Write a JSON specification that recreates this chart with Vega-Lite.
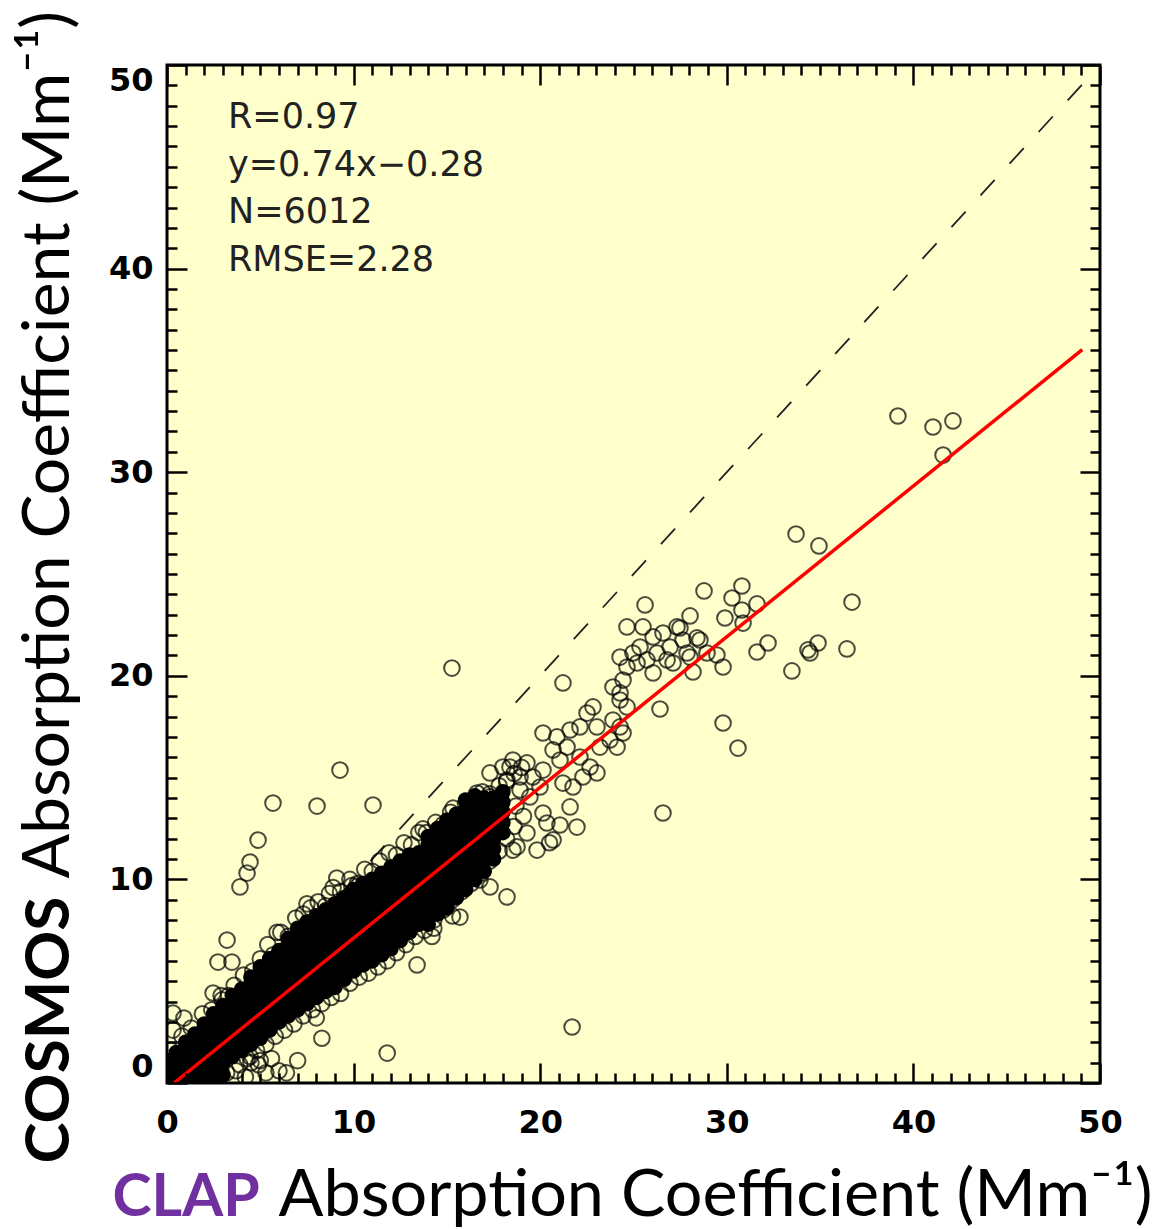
{
"$schema": "https://vega.github.io/schema/vega-lite/v6.json",
"width": 933, "height": 1018,
"autosize": "none",
"padding": {"left": 167, "top": 65, "right": 57, "bottom": 146},
"background": "white",
"config": {"view": {"fill": "#FFFFCC", "stroke": "black", "strokeWidth": 3}, "axis": {"domain": false, "grid": false}},
"datasets": {
"oneone": [{"clap": 0, "cosmos": 0}, {"clap": 49.4, "cosmos": 49.4}],
"fit": [{"clap": 0.38, "cosmos": 0}, {"clap": 49.05, "cosmos": 36.02}],
"core": [
{"clap":0,"cosmos":0.2},{"clap":0,"cosmos":0.7},{"clap":0,"cosmos":1.1},
{"clap":0.5,"cosmos":0.1},{"clap":0.5,"cosmos":0.6},{"clap":0.5,"cosmos":1.1},{"clap":0.5,"cosmos":1.5},
{"clap":1,"cosmos":0.1},{"clap":1,"cosmos":0.6},{"clap":1,"cosmos":1.1},{"clap":1,"cosmos":1.6},{"clap":1,"cosmos":2.0},
{"clap":1.5,"cosmos":0.1},{"clap":1.5,"cosmos":0.6},{"clap":1.5,"cosmos":1.1},{"clap":1.5,"cosmos":1.6},{"clap":1.5,"cosmos":2.1},{"clap":1.5,"cosmos":2.4},
{"clap":2,"cosmos":0.2},{"clap":2,"cosmos":0.7},{"clap":2,"cosmos":1.2},{"clap":2,"cosmos":1.7},{"clap":2,"cosmos":2.2},{"clap":2,"cosmos":2.7},{"clap":2,"cosmos":2.9},
{"clap":2.5,"cosmos":0.2},{"clap":2.5,"cosmos":0.7},{"clap":2.5,"cosmos":1.2},{"clap":2.5,"cosmos":1.7},{"clap":2.5,"cosmos":2.2},{"clap":2.5,"cosmos":2.7},{"clap":2.5,"cosmos":3.2},{"clap":2.5,"cosmos":3.4},
{"clap":3,"cosmos":0.4},{"clap":3,"cosmos":1.0},{"clap":3,"cosmos":1.5},{"clap":3,"cosmos":2.0},{"clap":3,"cosmos":2.5},{"clap":3,"cosmos":3.0},{"clap":3,"cosmos":3.5},{"clap":3,"cosmos":3.8},
{"clap":3.5,"cosmos":1.3},{"clap":3.5,"cosmos":1.8},{"clap":3.5,"cosmos":2.3},{"clap":3.5,"cosmos":2.8},{"clap":3.5,"cosmos":3.3},{"clap":3.5,"cosmos":3.8},{"clap":3.5,"cosmos":4.3},
{"clap":4,"cosmos":1.6},{"clap":4,"cosmos":2.1},{"clap":4,"cosmos":2.6},{"clap":4,"cosmos":3.1},{"clap":4,"cosmos":3.6},{"clap":4,"cosmos":4.1},{"clap":4,"cosmos":4.6},
{"clap":4.5,"cosmos":1.9},{"clap":4.5,"cosmos":2.4},{"clap":4.5,"cosmos":2.9},{"clap":4.5,"cosmos":3.4},{"clap":4.5,"cosmos":3.9},{"clap":4.5,"cosmos":4.4},{"clap":4.5,"cosmos":4.9},{"clap":4.5,"cosmos":5.2},
{"clap":5,"cosmos":2.2},{"clap":5,"cosmos":2.7},{"clap":5,"cosmos":3.2},{"clap":5,"cosmos":3.7},{"clap":5,"cosmos":4.2},{"clap":5,"cosmos":4.7},{"clap":5,"cosmos":5.2},{"clap":5,"cosmos":5.7},
{"clap":5.5,"cosmos":2.6},{"clap":5.5,"cosmos":3.1},{"clap":5.5,"cosmos":3.6},{"clap":5.5,"cosmos":4.1},{"clap":5.5,"cosmos":4.6},{"clap":5.5,"cosmos":5.1},{"clap":5.5,"cosmos":5.6},{"clap":5.5,"cosmos":6.1},
{"clap":6,"cosmos":3.0},{"clap":6,"cosmos":3.5},{"clap":6,"cosmos":4.0},{"clap":6,"cosmos":4.5},{"clap":6,"cosmos":5.0},{"clap":6,"cosmos":5.5},{"clap":6,"cosmos":6.0},{"clap":6,"cosmos":6.5},
{"clap":6.5,"cosmos":3.3},{"clap":6.5,"cosmos":3.8},{"clap":6.5,"cosmos":4.3},{"clap":6.5,"cosmos":4.8},{"clap":6.5,"cosmos":5.3},{"clap":6.5,"cosmos":5.8},{"clap":6.5,"cosmos":6.3},{"clap":6.5,"cosmos":6.8},{"clap":6.5,"cosmos":7.1},
{"clap":7,"cosmos":3.6},{"clap":7,"cosmos":4.1},{"clap":7,"cosmos":4.6},{"clap":7,"cosmos":5.1},{"clap":7,"cosmos":5.6},{"clap":7,"cosmos":6.1},{"clap":7,"cosmos":6.6},{"clap":7,"cosmos":7.1},{"clap":7,"cosmos":7.6},
{"clap":7.5,"cosmos":3.9},{"clap":7.5,"cosmos":4.4},{"clap":7.5,"cosmos":4.9},{"clap":7.5,"cosmos":5.4},{"clap":7.5,"cosmos":5.9},{"clap":7.5,"cosmos":6.4},{"clap":7.5,"cosmos":6.9},{"clap":7.5,"cosmos":7.4},{"clap":7.5,"cosmos":7.9},
{"clap":8,"cosmos":4.2},{"clap":8,"cosmos":4.7},{"clap":8,"cosmos":5.2},{"clap":8,"cosmos":5.7},{"clap":8,"cosmos":6.2},{"clap":8,"cosmos":6.7},{"clap":8,"cosmos":7.2},{"clap":8,"cosmos":7.7},{"clap":8,"cosmos":8.2},
{"clap":8.5,"cosmos":4.5},{"clap":8.5,"cosmos":5.0},{"clap":8.5,"cosmos":5.5},{"clap":8.5,"cosmos":6.0},{"clap":8.5,"cosmos":6.5},{"clap":8.5,"cosmos":7.0},{"clap":8.5,"cosmos":7.5},{"clap":8.5,"cosmos":8.0},{"clap":8.5,"cosmos":8.5},
{"clap":9,"cosmos":4.7},{"clap":9,"cosmos":5.2},{"clap":9,"cosmos":5.7},{"clap":9,"cosmos":6.2},{"clap":9,"cosmos":6.7},{"clap":9,"cosmos":7.2},{"clap":9,"cosmos":7.7},{"clap":9,"cosmos":8.2},{"clap":9,"cosmos":8.8},
{"clap":9.5,"cosmos":5.1},{"clap":9.5,"cosmos":5.6},{"clap":9.5,"cosmos":6.1},{"clap":9.5,"cosmos":6.6},{"clap":9.5,"cosmos":7.1},{"clap":9.5,"cosmos":7.6},{"clap":9.5,"cosmos":8.1},{"clap":9.5,"cosmos":8.6},{"clap":9.5,"cosmos":9.1},
{"clap":10,"cosmos":5.5},{"clap":10,"cosmos":6.0},{"clap":10,"cosmos":6.5},{"clap":10,"cosmos":7.0},{"clap":10,"cosmos":7.5},{"clap":10,"cosmos":8.0},{"clap":10,"cosmos":8.5},{"clap":10,"cosmos":9.0},{"clap":10,"cosmos":9.5},
{"clap":10.5,"cosmos":5.8},{"clap":10.5,"cosmos":6.3},{"clap":10.5,"cosmos":6.8},{"clap":10.5,"cosmos":7.3},{"clap":10.5,"cosmos":7.8},{"clap":10.5,"cosmos":8.3},{"clap":10.5,"cosmos":8.8},{"clap":10.5,"cosmos":9.3},{"clap":10.5,"cosmos":9.8},
{"clap":11,"cosmos":6.0},{"clap":11,"cosmos":6.5},{"clap":11,"cosmos":7.0},{"clap":11,"cosmos":7.5},{"clap":11,"cosmos":8.0},{"clap":11,"cosmos":8.5},{"clap":11,"cosmos":9.0},{"clap":11,"cosmos":9.5},{"clap":11,"cosmos":10.0},
{"clap":11.5,"cosmos":6.3},{"clap":11.5,"cosmos":6.8},{"clap":11.5,"cosmos":7.3},{"clap":11.5,"cosmos":7.8},{"clap":11.5,"cosmos":8.3},{"clap":11.5,"cosmos":8.8},{"clap":11.5,"cosmos":9.3},{"clap":11.5,"cosmos":9.8},{"clap":11.5,"cosmos":10.3},
{"clap":12,"cosmos":6.6},{"clap":12,"cosmos":7.1},{"clap":12,"cosmos":7.6},{"clap":12,"cosmos":8.1},{"clap":12,"cosmos":8.6},{"clap":12,"cosmos":9.1},{"clap":12,"cosmos":9.6},{"clap":12,"cosmos":10.1},{"clap":12,"cosmos":10.6},
{"clap":12.5,"cosmos":7.0},{"clap":12.5,"cosmos":7.5},{"clap":12.5,"cosmos":8.0},{"clap":12.5,"cosmos":8.5},{"clap":12.5,"cosmos":9.0},{"clap":12.5,"cosmos":9.5},{"clap":12.5,"cosmos":10.0},{"clap":12.5,"cosmos":10.5},{"clap":12.5,"cosmos":10.9},
{"clap":13,"cosmos":7.4},{"clap":13,"cosmos":7.9},{"clap":13,"cosmos":8.4},{"clap":13,"cosmos":8.9},{"clap":13,"cosmos":9.4},{"clap":13,"cosmos":9.9},{"clap":13,"cosmos":10.4},{"clap":13,"cosmos":10.9},{"clap":13,"cosmos":11.2},
{"clap":13.5,"cosmos":7.8},{"clap":13.5,"cosmos":8.3},{"clap":13.5,"cosmos":8.8},{"clap":13.5,"cosmos":9.3},{"clap":13.5,"cosmos":9.8},{"clap":13.5,"cosmos":10.3},{"clap":13.5,"cosmos":10.8},{"clap":13.5,"cosmos":11.3},
{"clap":14,"cosmos":7.8},{"clap":14,"cosmos":8.2},{"clap":14,"cosmos":8.7},{"clap":14,"cosmos":9.2},{"clap":14,"cosmos":9.7},{"clap":14,"cosmos":10.2},{"clap":14,"cosmos":10.7},{"clap":14,"cosmos":11.2},{"clap":14,"cosmos":11.7},{"clap":14,"cosmos":12.1},
{"clap":14.5,"cosmos":8.3},{"clap":14.5,"cosmos":8.7},{"clap":14.5,"cosmos":9.2},{"clap":14.5,"cosmos":9.7},{"clap":14.5,"cosmos":10.2},{"clap":14.5,"cosmos":10.7},{"clap":14.5,"cosmos":11.2},{"clap":14.5,"cosmos":11.7},{"clap":14.5,"cosmos":12.1},{"clap":14.5,"cosmos":12.5},
{"clap":15,"cosmos":8.6},{"clap":15,"cosmos":9.1},{"clap":15,"cosmos":9.6},{"clap":15,"cosmos":10.1},{"clap":15,"cosmos":10.6},{"clap":15,"cosmos":11.1},{"clap":15,"cosmos":11.6},{"clap":15,"cosmos":12.1},{"clap":15,"cosmos":12.4},{"clap":15,"cosmos":12.9},
{"clap":15.5,"cosmos":9.1},{"clap":15.5,"cosmos":9.6},{"clap":15.5,"cosmos":10.1},{"clap":15.5,"cosmos":10.6},{"clap":15.5,"cosmos":11.1},{"clap":15.5,"cosmos":11.6},{"clap":15.5,"cosmos":12.1},{"clap":15.5,"cosmos":12.6},{"clap":15.5,"cosmos":13.2},
{"clap":16,"cosmos":9.5},{"clap":16,"cosmos":10.0},{"clap":16,"cosmos":10.5},{"clap":16,"cosmos":11.0},{"clap":16,"cosmos":11.5},{"clap":16,"cosmos":12.0},{"clap":16,"cosmos":12.5},{"clap":16,"cosmos":12.9},{"clap":16,"cosmos":13.4},{"clap":16,"cosmos":13.9},
{"clap":16.5,"cosmos":10.0},{"clap":16.5,"cosmos":10.5},{"clap":16.5,"cosmos":11.0},{"clap":16.5,"cosmos":11.5},{"clap":16.5,"cosmos":12.0},{"clap":16.5,"cosmos":12.5},{"clap":16.5,"cosmos":13.1},{"clap":16.5,"cosmos":13.6},{"clap":16.5,"cosmos":14.1},
{"clap":17,"cosmos":10.4},{"clap":17,"cosmos":10.9},{"clap":17,"cosmos":11.4},{"clap":17,"cosmos":11.9},{"clap":17,"cosmos":12.4},{"clap":17,"cosmos":13.0},{"clap":17,"cosmos":13.5},{"clap":17,"cosmos":14.0},
{"clap":17.5,"cosmos":11.0},{"clap":17.5,"cosmos":11.5},{"clap":17.5,"cosmos":12.0},{"clap":17.5,"cosmos":12.5},{"clap":17.5,"cosmos":13.0},{"clap":17.5,"cosmos":13.5},{"clap":17.5,"cosmos":14.0},
{"clap":18,"cosmos":12.3},{"clap":18,"cosmos":12.8},{"clap":18,"cosmos":13.3},{"clap":18,"cosmos":13.8},{"clap":18,"cosmos":14.3}
],
"scatter": [
{"clap":0.2,"cosmos":1.6},{"clap":0.8,"cosmos":2.3},{"clap":1.3,"cosmos":2.7},{"clap":1.9,"cosmos":3.4},{"clap":2.4,"cosmos":3.6},{"clap":2.9,"cosmos":4.3},{"clap":3.3,"cosmos":4.3},{"clap":3.6,"cosmos":4.8},{"clap":4.1,"cosmos":5.3},{"clap":4.6,"cosmos":5.5},{"clap":5.0,"cosmos":6.1},{"clap":5.4,"cosmos":6.8},{"clap":5.7,"cosmos":6.3},{"clap":6.1,"cosmos":7.4},{"clap":6.5,"cosmos":7.2},{"clap":6.9,"cosmos":8.1},{"clap":7.3,"cosmos":8.3},{"clap":7.7,"cosmos":8.6},{"clap":8.1,"cosmos":8.9},{"clap":8.5,"cosmos":8.7},{"clap":8.9,"cosmos":9.6},{"clap":9.3,"cosmos":9.4},{"clap":9.8,"cosmos":10.0},{"clap":10.2,"cosmos":9.8},{"clap":10.6,"cosmos":10.5},{"clap":11.0,"cosmos":10.4},{"clap":11.4,"cosmos":10.9},{"clap":11.9,"cosmos":11.3},{"clap":12.3,"cosmos":11.2},{"clap":12.7,"cosmos":11.8},{"clap":13.1,"cosmos":11.7},{"clap":13.5,"cosmos":12.3},{"clap":13.9,"cosmos":12.3},{"clap":14.4,"cosmos":12.8},{"clap":14.8,"cosmos":12.7},{"clap":15.2,"cosmos":13.3},{"clap":15.6,"cosmos":13.1},{"clap":16.0,"cosmos":13.7},{"clap":16.5,"cosmos":13.9},{"clap":16.9,"cosmos":14.3},{"clap":17.3,"cosmos":14.2},{"clap":17.8,"cosmos":14.6},{"clap":18.2,"cosmos":14.8},{"clap":18.6,"cosmos":15.2},{"clap":19.0,"cosmos":15.5},
{"clap":4.3,"cosmos":1.2},{"clap":4.8,"cosmos":1.6},{"clap":5.3,"cosmos":1.9},{"clap":5.8,"cosmos":2.3},{"clap":6.3,"cosmos":2.6},{"clap":6.8,"cosmos":2.9},{"clap":7.3,"cosmos":3.3},{"clap":7.8,"cosmos":3.6},{"clap":8.3,"cosmos":3.9},{"clap":8.8,"cosmos":4.2},{"clap":9.3,"cosmos":4.4},{"clap":9.8,"cosmos":4.9},{"clap":10.3,"cosmos":5.2},{"clap":10.8,"cosmos":5.4},{"clap":11.3,"cosmos":5.7},{"clap":11.8,"cosmos":6.0},{"clap":12.3,"cosmos":6.4},{"clap":12.8,"cosmos":6.8},{"clap":13.3,"cosmos":7.2},{"clap":13.8,"cosmos":7.5},{"clap":14.3,"cosmos":8.0},{"clap":14.8,"cosmos":8.5},{"clap":15.3,"cosmos":9.0},{"clap":15.8,"cosmos":9.4},{"clap":16.3,"cosmos":9.8},{"clap":16.8,"cosmos":10.3},{"clap":17.3,"cosmos":10.9},{"clap":17.8,"cosmos":11.4},{"clap":18.2,"cosmos":12.0},
{"clap":3.7,"cosmos":0.6},{"clap":4.2,"cosmos":0.3},{"clap":4.5,"cosmos":1.0},{"clap":4.9,"cosmos":0.9},{"clap":5.3,"cosmos":0.5},{"clap":5.6,"cosmos":1.2},{"clap":6.0,"cosmos":0.6},{"clap":6.4,"cosmos":0.5},{"clap":7.0,"cosmos":1.1},{"clap":3.9,"cosmos":0.9},{"clap":3.2,"cosmos":0.5},{"clap":5.0,"cosmos":1.1},{"clap":4.45,"cosmos":1.3},
{"clap":15.27,"cosmos":20.38},{"clap":9.27,"cosmos":15.37},{"clap":5.68,"cosmos":13.75},{"clap":8.04,"cosmos":13.6},{"clap":11.04,"cosmos":13.65},{"clap":4.88,"cosmos":11.93},{"clap":4.45,"cosmos":10.85},{"clap":4.29,"cosmos":10.31},{"clap":3.91,"cosmos":9.63},{"clap":3.22,"cosmos":7.02},{"clap":2.73,"cosmos":5.94},{"clap":3.48,"cosmos":5.94},{"clap":0.91,"cosmos":3.19},{"clap":0.32,"cosmos":2.6},{"clap":0.32,"cosmos":3.44},{"clap":2.47,"cosmos":4.42},{"clap":2.95,"cosmos":4.08},{"clap":13.72,"cosmos":12.48},{"clap":15.33,"cosmos":13.5},{"clap":9.1,"cosmos":10.07},{"clap":9.9,"cosmos":9.7},{"clap":5.9,"cosmos":7.4},{"clap":7.5,"cosmos":8.8},{"clap":8.7,"cosmos":9.3},
{"clap":21.71,"cosmos":2.75},{"clap":11.8,"cosmos":1.47},{"clap":8.3,"cosmos":2.2},{"clap":8.0,"cosmos":3.2},{"clap":13.4,"cosmos":5.8},{"clap":14.2,"cosmos":7.2},{"clap":14.3,"cosmos":7.6},{"clap":15.3,"cosmos":8.2},{"clap":15.7,"cosmos":8.15},{"clap":18.22,"cosmos":9.14},{"clap":17.31,"cosmos":9.63},{"clap":16.77,"cosmos":9.97},{"clap":15.2,"cosmos":9.1},
{"clap":16.61,"cosmos":14.24},{"clap":17.31,"cosmos":14.05},{"clap":18.54,"cosmos":15.86},{"clap":19.29,"cosmos":15.72},{"clap":17.31,"cosmos":15.23},{"clap":18.0,"cosmos":15.52},{"clap":18.92,"cosmos":15.03},{"clap":19.61,"cosmos":15.03},{"clap":20.15,"cosmos":15.37},{"clap":18.38,"cosmos":15.52},{"clap":18.22,"cosmos":14.88},{"clap":18.92,"cosmos":14.39},{"clap":19.99,"cosmos":14.54},{"clap":19.45,"cosmos":14.05},{"clap":18.7,"cosmos":13.6},{"clap":19.1,"cosmos":13.1},{"clap":18.6,"cosmos":12.6},
{"clap":20.15,"cosmos":17.19},{"clap":20.9,"cosmos":17.0},{"clap":21.6,"cosmos":17.34},{"clap":22.13,"cosmos":17.49},{"clap":21.44,"cosmos":16.5},{"clap":20.69,"cosmos":16.36},{"clap":21.06,"cosmos":15.86},{"clap":22.13,"cosmos":16.01},{"clap":22.67,"cosmos":15.52},{"clap":23.04,"cosmos":15.23},{"clap":22.29,"cosmos":15.03},{"clap":21.22,"cosmos":14.73},{"clap":21.76,"cosmos":14.54},{"clap":21.6,"cosmos":13.56},{"clap":21.97,"cosmos":12.57},{"clap":20.69,"cosmos":11.94},{"clap":19.29,"cosmos":12.28},{"clap":19.83,"cosmos":11.44},{"clap":18.54,"cosmos":11.44},{"clap":20.36,"cosmos":12.77},{"clap":18.76,"cosmos":11.6},{"clap":20.5,"cosmos":11.8},{"clap":21.06,"cosmos":12.67},{"clap":20.15,"cosmos":13.26},
{"clap":23.9,"cosmos":19.45},{"clap":24.44,"cosmos":19.79},{"clap":24.28,"cosmos":18.81},{"clap":22.83,"cosmos":18.47},{"clap":22.51,"cosmos":18.17},{"clap":23.04,"cosmos":17.49},{"clap":23.9,"cosmos":17.83},{"clap":24.44,"cosmos":17.19},{"clap":23.74,"cosmos":16.85},{"clap":23.2,"cosmos":16.5},{"clap":24.12,"cosmos":16.5},{"clap":24.28,"cosmos":17.49},{"clap":24.28,"cosmos":19.16},{"clap":24.65,"cosmos":18.47},
{"clap":24.65,"cosmos":22.4},{"clap":25.51,"cosmos":22.4},{"clap":26.58,"cosmos":22.1},{"clap":27.33,"cosmos":22.4},{"clap":24.28,"cosmos":20.92},{"clap":25.35,"cosmos":21.41},{"clap":26.26,"cosmos":21.12},{"clap":27.12,"cosmos":20.63},{"clap":26.05,"cosmos":20.14},{"clap":25.19,"cosmos":20.63},{"clap":26.05,"cosmos":21.91},{"clap":24.97,"cosmos":21.12},{"clap":24.65,"cosmos":20.43},{"clap":25.72,"cosmos":20.78},{"clap":26.96,"cosmos":21.41},{"clap":28.03,"cosmos":22.94},{"clap":27.49,"cosmos":22.35},{"clap":28.4,"cosmos":21.86},{"clap":27.65,"cosmos":21.76},{"clap":28.03,"cosmos":20.92},{"clap":29.47,"cosmos":21.02},{"clap":29.8,"cosmos":20.43},{"clap":27.87,"cosmos":21.12},{"clap":28.56,"cosmos":21.76},{"clap":28.94,"cosmos":21.12},{"clap":28.19,"cosmos":20.19},{"clap":26.8,"cosmos":20.78},
{"clap":28.78,"cosmos":24.17},{"clap":30.81,"cosmos":24.41},{"clap":30.28,"cosmos":23.82},{"clap":30.81,"cosmos":23.23},{"clap":29.9,"cosmos":22.84},{"clap":31.62,"cosmos":23.53},{"clap":30.87,"cosmos":22.59},{"clap":25.62,"cosmos":23.48},
{"clap":31.62,"cosmos":21.17},{"clap":32.21,"cosmos":21.61},{"clap":33.49,"cosmos":20.24},{"clap":34.35,"cosmos":21.27},{"clap":34.89,"cosmos":21.61},{"clap":34.46,"cosmos":21.12},{"clap":36.44,"cosmos":21.32},{"clap":36.71,"cosmos":23.62},{"clap":33.71,"cosmos":26.96},{"clap":34.94,"cosmos":26.38},{"clap":39.17,"cosmos":32.76},{"clap":41.05,"cosmos":32.22},{"clap":42.12,"cosmos":32.52},{"clap":41.59,"cosmos":30.84},{"clap":29.8,"cosmos":17.68},{"clap":30.6,"cosmos":16.45},{"clap":26.42,"cosmos":18.37},{"clap":26.58,"cosmos":13.26},{"clap":21.22,"cosmos":19.65}
]
},
"layer": [
{
"data": {"name": "oneone"},
"mark": {"type": "line", "color": "#222222", "strokeWidth": 1.8, "strokeDash": [21, 22], "clip": true},
"encoding": {
"x": {"field": "clap", "type": "quantitative", "scale": {"domain": [0, 50], "nice": false, "zero": false},
 "axis": {"orient": "bottom", "zindex": 1, "values": [0,1,2,3,4,5,6,7,8,9,10,11,12,13,14,15,16,17,18,19,20,21,22,23,24,25,26,27,28,29,30,31,32,33,34,35,36,37,38,39,40,41,42,43,44,45,46,47,48,49,50],
  "ticks": true, "tickColor": "black", "tickWidth": 2.5, "tickSize": {"condition": {"test": "datum.value % 10 === 0", "value": -20}, "value": -10},
  "labels": false,
  "title": "CLAP", "titleFont": "Lato", "titleFontWeight": "bold", "titleFontSize": 59, "titleColor": "#7030A0",
  "titleX": -55, "titleY": 132, "titleAlign": "left", "titleBaseline": "alphabetic", "titleAngle": 0}},
"y": {"field": "cosmos", "type": "quantitative", "scale": {"domain": [0, 50], "nice": false, "zero": false},
 "axis": {"orient": "left", "zindex": 1, "values": [0,1,2,3,4,5,6,7,8,9,10,11,12,13,14,15,16,17,18,19,20,21,22,23,24,25,26,27,28,29,30,31,32,33,34,35,36,37,38,39,40,41,42,43,44,45,46,47,48,49,50],
  "ticks": true, "tickColor": "black", "tickWidth": 2.5, "tickSize": {"condition": {"test": "datum.value % 10 === 0", "value": -20}, "value": -10},
  "labels": false,
  "title": "COSMOS", "titleFont": "Lato", "titleFontWeight": "bold", "titleFontSize": 62, "titleColor": "black",
  "titleX": -99, "titleY": 1098, "titleAlign": "left", "titleBaseline": "alphabetic", "titleAngle": 270}}
}
},
{
"data": {"name": "scatter"},
"mark": {"type": "point", "shape": "circle", "filled": false, "color": "black", "size": 245, "strokeWidth": 2, "clip": true},
"encoding": {
"x": {"field": "clap", "type": "quantitative", "scale": {"domain": [0, 50], "nice": false, "zero": false},
 "axis": {"orient": "bottom", "values": [0, 10, 20, 30, 40, 50], "ticks": false, "labelFlush": false,
  "labelFont": "DejaVu Sans", "labelFontWeight": "bold", "labelFontSize": 32, "labelColor": "black", "labelPadding": 24, "labelBaseline": "top",
  "title": "Absorption Coefficient (Mm⁻¹)", "titleFont": "Lato", "titleFontWeight": "normal", "titleFontSize": 66.5, "titleColor": "black",
  "titleX": 111, "titleY": 132, "titleAlign": "left", "titleBaseline": "alphabetic", "titleAngle": 0}},
"y": {"field": "cosmos", "type": "quantitative", "scale": {"domain": [0, 50], "nice": false, "zero": false},
 "axis": {"orient": "left", "values": [0, 10, 20, 30, 40, 50], "ticks": false, "labelFlush": true,
  "labelFont": "DejaVu Sans", "labelFontWeight": "bold", "labelFontSize": 32, "labelColor": "black", "labelPadding": 14,
  "title": "Absorption Coefficient (Mm⁻¹)", "titleFont": "Lato", "titleFontWeight": "normal", "titleFontSize": 66, "titleColor": "black",
  "titleX": -99, "titleY": 813, "titleAlign": "left", "titleBaseline": "alphabetic", "titleAngle": 270}}
}
},
{
"data": {"name": "core"},
"mark": {"type": "point", "shape": "circle", "filled": true, "color": "black", "size": 245, "strokeWidth": 2, "opacity": 1, "clip": true},
"encoding": {
"x": {"field": "clap", "type": "quantitative", "scale": {"domain": [0, 50], "nice": false, "zero": false},
 "axis": {"orient": "top", "zindex": 1, "values": [0,1,2,3,4,5,6,7,8,9,10,11,12,13,14,15,16,17,18,19,20,21,22,23,24,25,26,27,28,29,30,31,32,33,34,35,36,37,38,39,40,41,42,43,44,45,46,47,48,49,50],
  "ticks": true, "tickColor": "black", "tickWidth": 2.5, "tickSize": {"condition": {"test": "datum.value % 10 === 0", "value": -20}, "value": -10},
  "labels": false, "title": null}},
"y": {"field": "cosmos", "type": "quantitative", "scale": {"domain": [0, 50], "nice": false, "zero": false},
 "axis": {"orient": "right", "zindex": 1, "values": [0,1,2,3,4,5,6,7,8,9,10,11,12,13,14,15,16,17,18,19,20,21,22,23,24,25,26,27,28,29,30,31,32,33,34,35,36,37,38,39,40,41,42,43,44,45,46,47,48,49,50],
  "ticks": true, "tickColor": "black", "tickWidth": 2.5, "tickSize": {"condition": {"test": "datum.value % 10 === 0", "value": -20}, "value": -10},
  "labels": false, "title": null}}
}
},
{
"data": {"name": "fit"},
"mark": {"type": "line", "color": "#FF0000", "strokeWidth": 3.5, "clip": true},
"encoding": {
"x": {"field": "clap", "type": "quantitative", "scale": {"domain": [0, 50], "nice": false, "zero": false}, "axis": null},
"y": {"field": "cosmos", "type": "quantitative", "scale": {"domain": [0, 50], "nice": false, "zero": false}, "axis": null}
}
},
{
"data": {"values": [{"note": "stats"}]},
"mark": {"type": "text", "text": ["R=0.97", "y=0.74x−0.28", "N=6012", "RMSE=2.28"], "font": "DejaVu Sans", "fontSize": 35, "color": "#222222", "align": "left", "baseline": "alphabetic", "lineHeight": 47.5},
"encoding": {
"x": {"datum": 3.27, "type": "quantitative", "axis": null},
"y": {"datum": 46.9, "type": "quantitative", "axis": null}
}
}
],
"resolve": {"axis": {"x": "independent", "y": "independent"}}
}
